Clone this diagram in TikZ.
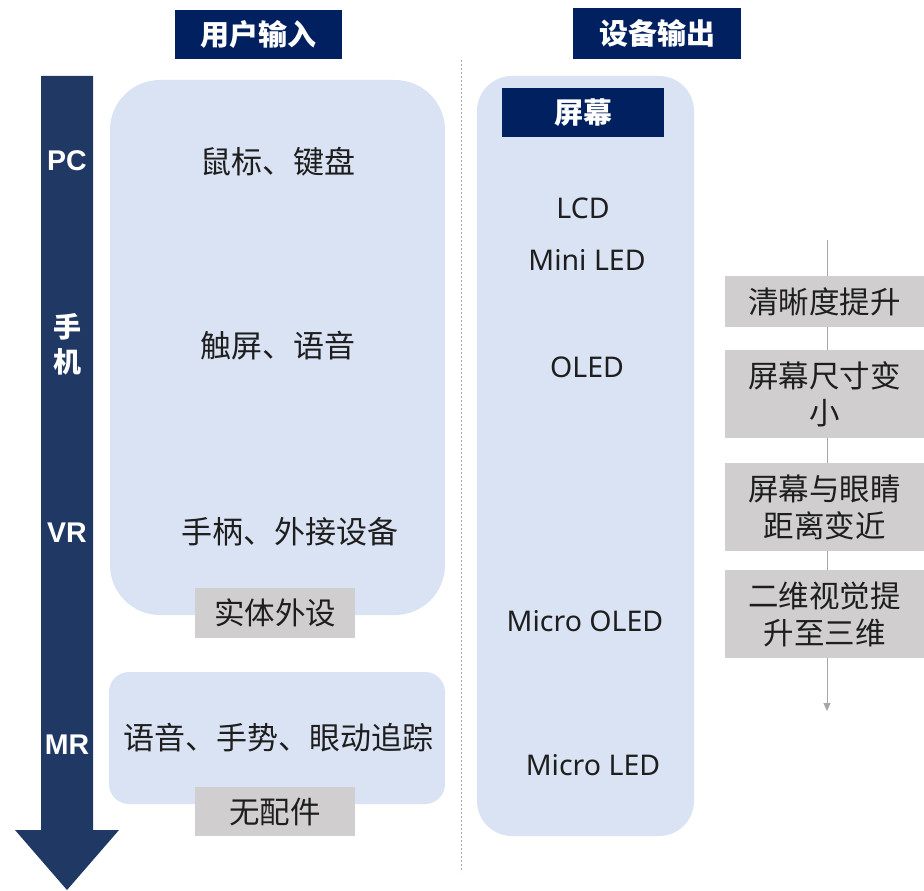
\documentclass[tikz,border=0pt]{standalone}
\usepackage{fontspec}
\setmainfont{Noto Sans CJK SC}
\newfontfamily\latinfont{Noto Sans}
\newfontfamily\arialfont{Liberation Sans}
\usetikzlibrary{arrows.meta}
\definecolor{navy}{HTML}{002060}
\definecolor{arrowblue}{HTML}{203864}
\definecolor{lightblue}{HTML}{DAE3F3}
\definecolor{boxgray}{HTML}{D0CECE}
\definecolor{txt}{HTML}{1E1E1E}
\definecolor{linegray}{HTML}{A6A6A6}
\begin{document}
\begin{tikzpicture}[x=1pt,y=-1pt,
  header/.style={fill=navy, text=white, inner sep=0pt, font=\bfseries\fontsize{29}{32}\selectfont},
  panel/.style={fill=lightblue, inner sep=0pt},
  graybox/.style={fill=boxgray, text=txt, inner sep=0pt, align=center, font=\fontsize{30.5}{37}\selectfont},
  cjktext/.style={text=txt, inner sep=0pt, font=\fontsize{31}{34}\selectfont},
  latintext/.style={text=txt, inner sep=0pt, font=\latinfont\fontsize{28.5}{32}\selectfont},
  stagelabel/.style={text=white, inner sep=0pt, font=\arialfont\bfseries\fontsize{28.5}{30}\selectfont},
  stagecjk/.style={text=white, inner sep=0pt, font=\bfseries\fontsize{28}{30}\selectfont},
  trendline/.style={draw=linegray, line width=1pt, -{Triangle[length=8pt,width=7pt]}},
  divider/.style={draw=linegray, line width=0.8pt, dash pattern=on 2pt off 2pt}
]
\useasboundingbox (0,0) rectangle (924,891);
\fill[white] (0,0) rectangle (924,891);

% headers
\node[header, minimum width=167pt, minimum height=49pt] (hin) at (258.5,34.5) {用户输入};
\node[header, minimum width=168pt, minimum height=51pt] (hout) at (657,33.5) {设备输出};

% divider
\coordinate (dt) at (461,60);
\coordinate (db) at (461,872);
\draw[divider] (dt) -- (db);

% big arrow
\fill[arrowblue] (41,76) -- (93,76) -- (93,830) -- (119,830) -- (67,890) -- (15,830) -- (41,830) -- cycle;
\node[stagelabel] (pc) at (67,161) {PC};
\node[stagecjk] (sj1) at (67,327) {手};
\node[stagecjk] (sj2) at (67,362) {机};
\node[stagelabel] (vr) at (67,533) {VR};
\node[stagelabel] (mr) at (67,745) {MR};

% input panels
\node[panel, rounded corners=50pt, minimum width=335pt, minimum height=535pt] (pin1) at (277.5,347.5) {};
\node[cjktext] (t1) at (278,162) {鼠标、键盘};
\node[cjktext] (t2) at (278,346) {触屏、语音};
\node[cjktext] (t3) at (290,532) {手柄、外接设备};
\node[graybox, minimum width=160pt, minimum height=50pt] (g1) at (275,613) {实体外设};

\node[panel, rounded corners=20pt, minimum width=336pt, minimum height=132pt] (pin2) at (277,738) {};
\node[cjktext] (t4) at (278,738) {语音、手势、眼动追踪};
\node[graybox, minimum width=160pt, minimum height=49pt] (g2) at (275,811.5) {无配件};

% output panel
\node[panel, rounded corners=35pt, minimum width=217pt, minimum height=760pt] (pout) at (585.5,456) {};
\node[header, minimum width=162pt, minimum height=49pt] (screen) at (583,112.5) {屏幕};
\node[latintext] (lcd) at (583,208) {LCD};
\node[latintext] (mini) at (587,260) {Mini LED};
\node[latintext] (oled) at (587,367) {OLED};
\node[latintext] (moled) at (585,621) {Micro OLED};
\node[latintext] (mled) at (593,765) {Micro LED};

% trend
\coordinate (lt) at (827,240);
\coordinate (lb) at (827,711);
\draw[trendline] (lt) -- (lb);
\node[graybox, minimum width=199pt, minimum height=51pt] (r1) at (824.5,301.5) {清晰度提升};
\node[graybox, minimum width=199pt, minimum height=88pt] (r2) at (824.5,394) {屏幕尺寸变\\小};
\node[graybox, minimum width=199pt, minimum height=88pt] (r3) at (824.5,507) {屏幕与眼睛\\距离变近};
\node[graybox, minimum width=199pt, minimum height=88pt] (r4) at (824.5,614) {二维视觉提\\升至三维};
\end{tikzpicture}
\end{document}
